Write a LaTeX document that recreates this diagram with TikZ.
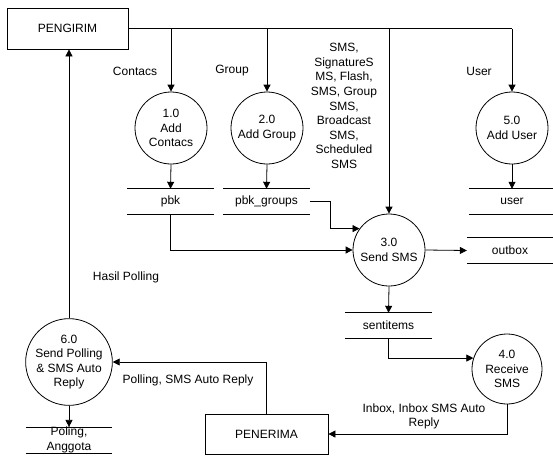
\documentclass[tikz,border=0pt]{standalone}
\usepackage{fontspec}
\setmainfont{Liberation Sans}
\usetikzlibrary{arrows.meta}
\begin{document}
\begin{tikzpicture}[x=1pt,y=-1pt,
  every node/.style={font=\fontsize{12}{14.6}\selectfont},
  conn/.style={line width=0.8pt},
  arr/.style={conn,-{Triangle[length=7pt,width=7pt]}},
  proc/.style={circle,draw,line width=0.8pt,minimum size=72pt,inner sep=0pt,align=center},
  ext/.style={rectangle,draw,line width=0.8pt,inner sep=0pt,align=center},
  store/.style={rectangle,minimum width=86pt,minimum height=25pt,inner sep=0pt,align=center},
  lbl/.style={align=center,inner sep=0pt}]
\useasboundingbox (0,0) rectangle (553,455);
% external entities
\node[ext,minimum width=121pt,minimum height=41pt] (peng) at (67.5,28.5) {PENGIRIM};
\node[ext,minimum width=123pt,minimum height=40pt] (pen) at (266.5,434) {PENERIMA};
% processes
\node[proc] (c1) at (171,128) {1.0\\Add\\Contacs};
\node[proc] (c2) at (267,128) {2.0\\Add Group};
\node[proc] (c5) at (512,128) {5.0\\Add User};
\node[proc] (c3) at (389,250) {3.0\\Send SMS};
\node[proc,minimum size=70pt] (c4) at (507,369) {4.0\\Receive\\SMS};
\node[proc] (c6) at (69,362) {6.0\\Send Polling\\\& SMS Auto\\Reply};
% data stores
\node[store,minimum width=87pt] (pbk) at (170.5,201.5) {pbk};
\node[store,minimum width=87pt] (pbkg) at (266.5,201.5) {pbk\_groups};
\node[store] (user) at (512,201.5) {user};
\node[store] (outbox) at (510,250.5) {outbox};
\node[store,minimum width=87pt] (sent) at (388.5,325.5) {sentitems};
\node[store,minimum height=24pt] (poll) at (69,440) {Poling,\\Anggota};
\foreach \n in {pbk,pbkg,user,outbox,sent,poll}
  \draw[conn] (\n.north west) -- (\n.north east) (\n.south west) -- (\n.south east);
% labels
\node[lbl] (lcon) at (135,71) {Contacs};
\node[lbl] (lgrp) at (232,71) {Group};
\node[lbl] (lusr) at (479,71) {User};
\node[lbl] (lsms) at (344,106) {SMS,\\SignatureS\\MS, Flash,\\SMS, Group\\SMS,\\Broadcast\\SMS,\\Scheduled\\SMS};
\node[lbl] (lhas) at (126,277) {Hasil Polling};
\node[lbl] (lpol) at (188,380) {Polling, SMS Auto Reply};
\node[lbl] (linb) at (424,416.5) {Inbox, Inbox SMS Auto\\Reply};
% connectors
\draw[conn] (peng.east) -- (peng.east -| c5);
\draw[arr] (peng.east -| c1) -- (c1.north);
\draw[arr] (peng.east -| c2) -- (c2.north);
\draw[arr] (peng.east -| c3) -- (c3.north);
\draw[arr] (peng.east -| c5) -- (c5.north);
\draw[arr] (c1.south) -- (pbk.north);
\draw[arr] (c2.south) -- (pbkg.north);
\draw[arr] (c5.south) -- (user.north);
\draw[arr] (pbkg.east) -- ++(20,0) |- (c3.144);
\draw[arr] (pbk.south) |- (c3.west);
\draw[arr] (c3.east) -- (outbox.west);
\draw[arr] (c3.south) -- (sent.north);
\draw[arr] (sent.south) |- (c4.162);
\draw[arr] (c4.south) |- (pen.east);
\draw[arr] (pen.north) |- (c6.east);
\draw[arr] (c6.south) -- (poll.north);
\draw[arr] (c6.north) -- (c6.north |- peng.south);
\end{tikzpicture}
\end{document}
